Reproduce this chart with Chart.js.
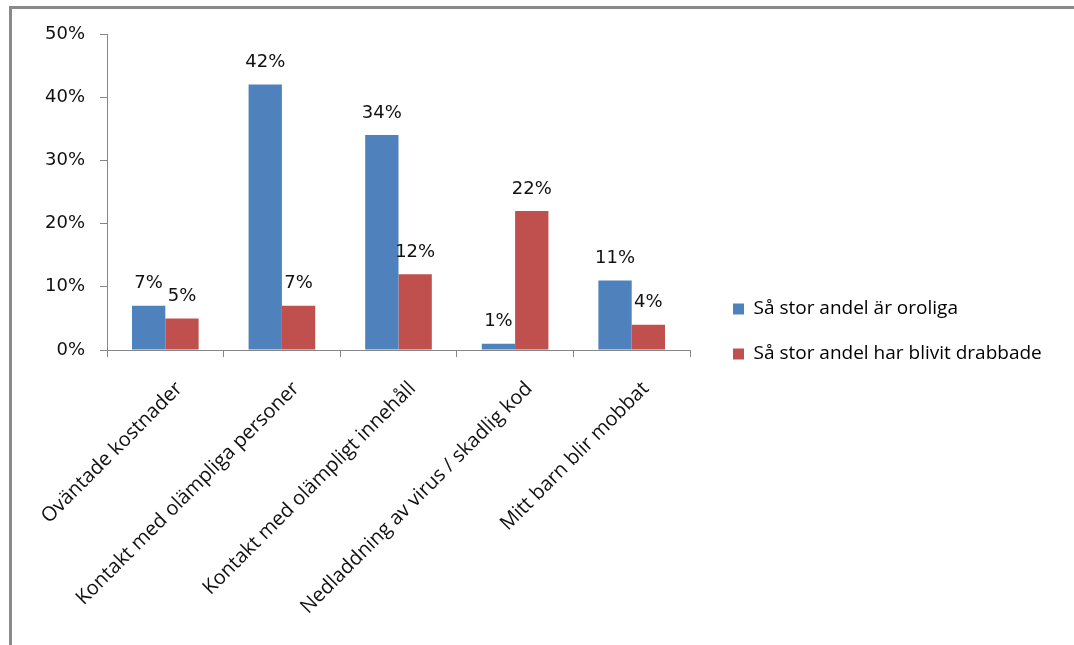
<!DOCTYPE html>
<html>
  <head>
    <script src="https://cdn.jsdelivr.net/npm/chart.js@4/dist/chart.umd.min.js"></script>
    <style>
      body { margin: 0; background: #fff; }
      #frame {
        position: absolute; left: 9px; top: 6px; width: 1080px; height: 660px;
        border-left: 3px solid #8a8a8a; border-top: 3px solid #8a8a8a;
      }
      #wrap { position: absolute; left: 0; top: 0; width: 1074px; height: 645px; }
    </style>
  </head>
  <body>
    <div id="frame"></div>
    <div id="wrap"><canvas id="myChart"></canvas></div>

    <script>
      // data
      var categories = [
        "Oväntade kostnader",
        "Kontakt med olämpliga personer",
        "Kontakt med olämpligt innehåll",
        "Nedladdning av virus / skadlig kod",
        "Mitt barn blir mobbat",
      ];
      var worried = [7, 42, 34, 1, 11];
      var affected = [5, 7, 12, 22, 4];
      var seriesNames = ["Så stor andel är oroliga", "Så stor andel har blivit drabbade"];
      var yTickValues = [0, 10, 20, 30, 40, 50];
      var yTickLabels = ["0%", "10%", "20%", "30%", "40%", "50%"];

      var axisGrey = "#868686";

      // value labels above each bar
      var barLabels = {
        id: "barLabels",
        afterDatasetsDraw: function (chart) {
          var ctx = chart.ctx;
          ctx.save();
          ctx.font = "18px 'DejaVu Sans'";
          ctx.fillStyle = "#111";
          ctx.textAlign = "center";
          ctx.textBaseline = "bottom";
          chart.data.datasets.forEach(function (ds, i) {
            chart.getDatasetMeta(i).data.forEach(function (bar, j) {
              ctx.fillText(ds.data[j] + "%", bar.x, bar.y - 13);
            });
          });
          ctx.restore();
        },
      };

      // keep the legend to the right of the plot at a fixed width
      var legendPlace = {
        id: "legendPlace",
        afterInit: function (chart) {
          var lg = chart.legend;
          var fit = lg.fit;
          lg.fit = function () {
            fit.call(this);
            this.width = 384;
          };
        },
        afterLayout: function (chart) {
          chart.legend.left = 707;
          chart.legend.top -= 3;
          chart.legend.bottom -= 3;
        },
      };

      var ctx = document.getElementById("myChart").getContext("2d");
      var myChart = new Chart(ctx, {
        type: "bar",
        data: {
          labels: categories,
          datasets: [
            { label: seriesNames[0], data: worried, backgroundColor: "#4f81bd" },
            { label: seriesNames[1], data: affected, backgroundColor: "#c0504d" },
          ],
        },
        options: {
          responsive: true,
          maintainAspectRatio: false,
          animation: false,
          categoryPercentage: 2 / 3.5,
          barPercentage: 1,
          layout: { padding: { left: 0, top: 34, right: 0, bottom: 10 } },
          plugins: {
            legend: {
              position: "right",
              labels: {
                boxWidth: 11,
                boxHeight: 11,
                padding: 26,
                color: "#000",
                font: { family: "'Open Sans'", size: 19 },
              },
            },
            tooltip: { enabled: false },
          },
          scales: {
            x: {
              grid: {
                offset: true,
                drawOnChartArea: false,
                tickLength: 7,
                color: axisGrey,
              },
              border: { color: axisGrey },
              ticks: {
                maxRotation: 45,
                minRotation: 45,
                autoSkip: false,
                labelOffset: 14,
                padding: 20,
                color: "#111",
                font: { family: "'Open Sans'", size: 20 },
              },
              afterFit: function (scale) {
                scale.height = 285;
              },
            },
            y: {
              min: 0,
              max: 50,
              afterBuildTicks: function (scale) {
                scale.ticks = yTickValues.map(function (v) { return { value: v }; });
              },
              grid: {
                drawOnChartArea: false,
                tickLength: 7,
                color: axisGrey,
              },
              border: { color: axisGrey },
              ticks: {
                padding: 15,
                color: "#111",
                font: { family: "'DejaVu Sans'", size: 18 },
                callback: function (v) {
                  return yTickLabels[yTickValues.indexOf(v)];
                },
              },
              afterFit: function (scale) {
                scale.width = 107;
              },
            },
          },
        },
        plugins: [barLabels, legendPlace],
      });
    </script>
  </body>
</html>
